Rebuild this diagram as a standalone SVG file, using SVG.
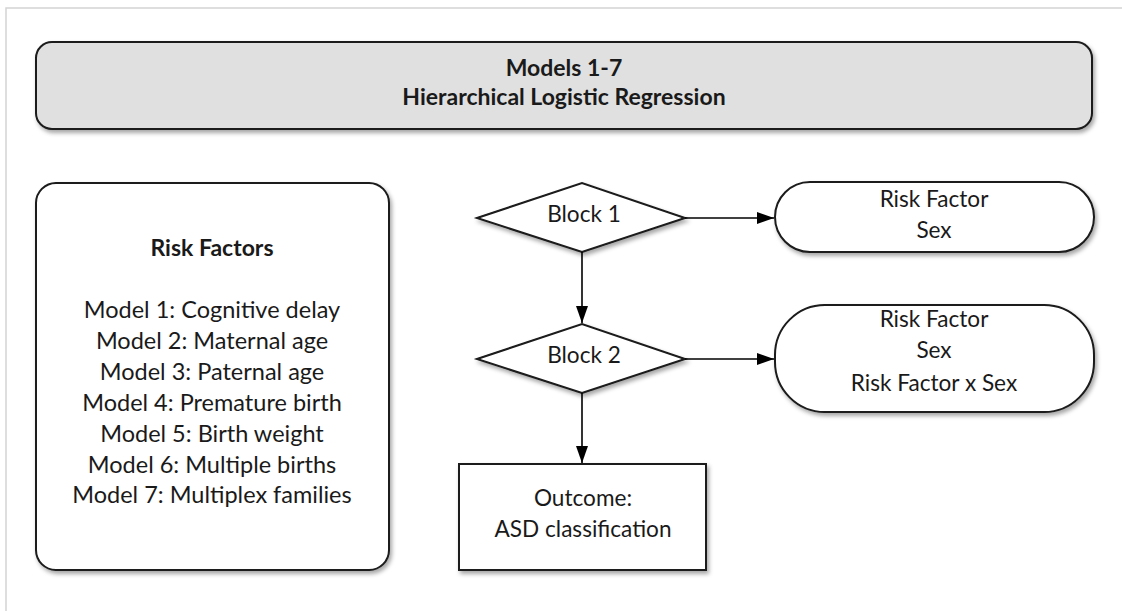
<svg xmlns="http://www.w3.org/2000/svg" width="1122" height="611" viewBox="0 0 1122 611">
<style>
  text { font-family: Lato, "Open Sans", "Liberation Sans", sans-serif; fill: #1a1a1a; text-anchor: middle; }
  .b { font-weight: bold; font-size: 23px; }
  .t { font-size: 22.6px; }
  .l { font-size: 23.5px; }
  .shape { stroke: #1a1a1a; stroke-width: 2; }
  .conn { stroke: #000; stroke-width: 1.6; fill: none; marker-end: url(#arr); }
</style>
<defs>
  <filter id="sh" x="-10%" y="-10%" width="130%" height="130%">
    <feDropShadow dx="2" dy="3" stdDeviation="2" flood-color="#000" flood-opacity="0.35"/>
  </filter>
  <marker id="arr" markerWidth="17" markerHeight="12" refX="17" refY="6" orient="auto" markerUnits="userSpaceOnUse">
    <path d="M0,0 L17,6 L0,12 Z" fill="#000"/>
  </marker>
</defs>
<rect width="1122" height="611" fill="#fff"/>
<path d="M6,611 V8 H1122" fill="none" stroke="#d4d4d4" stroke-width="1.5"/>

<g id="title">
  <rect class="shape" x="36" y="42" width="1056" height="87" rx="16" fill="#e0e0e0" filter="url(#sh)"/>
  <text class="b" x="564" y="76">Models 1-7</text>
  <text class="b" x="564" y="105">Hierarchical Logistic Regression</text>
</g>

<g id="risk-factors">
  <rect class="shape" x="36" y="183" width="353" height="387" rx="20" fill="#fff" filter="url(#sh)"/>
  <text class="b" x="212" y="256">Risk Factors</text>
  <text class="l" x="212" y="318">Model 1: Cognitive delay</text>
  <text class="l" x="212" y="349">Model 2: Maternal age</text>
  <text class="l" x="212" y="380">Model 3: Paternal age</text>
  <text class="l" x="212" y="411">Model 4: Premature birth</text>
  <text class="l" x="212" y="442">Model 5: Birth weight</text>
  <text class="l" x="212" y="473">Model 6: Multiple births</text>
  <text class="l" x="212" y="503">Model 7: Multiplex families</text>
</g>

<g id="block1">
  <polygon class="shape" points="477,218 582,183 685,218 582,252" fill="#fff" filter="url(#sh)"/>
  <text class="t" x="584" y="222">Block 1</text>
</g>

<g id="block2">
  <polygon class="shape" points="477,359 582,324 685,359 582,393" fill="#fff" filter="url(#sh)"/>
  <text class="t" x="584" y="363">Block 2</text>
</g>

<g id="pill1">
  <rect class="shape" x="775" y="182" width="319" height="70" rx="35" fill="#fff" filter="url(#sh)"/>
  <text class="t" x="934" y="207">Risk Factor</text>
  <text class="t" x="934" y="238">Sex</text>
</g>

<g id="pill2">
  <rect class="shape" x="775" y="305" width="319" height="107" rx="50" fill="#fff" filter="url(#sh)"/>
  <text class="t" x="934" y="327">Risk Factor</text>
  <text class="t" x="934" y="358">Sex</text>
  <text class="t" x="934" y="391">Risk Factor x Sex</text>
</g>

<g id="outcome">
  <rect class="shape" x="459" y="464" width="247" height="106" fill="#fff" filter="url(#sh)"/>
  <text class="t" x="583" y="506">Outcome:</text>
  <text class="t" x="583" y="537">ASD classification</text>
</g>

<g id="connectors">
  <path class="conn" d="M685,218 H774"/>
  <path class="conn" d="M685,359 H774"/>
  <path class="conn" d="M582,252 V323"/>
  <path class="conn" d="M582,393 V463"/>
</g>
</svg>
